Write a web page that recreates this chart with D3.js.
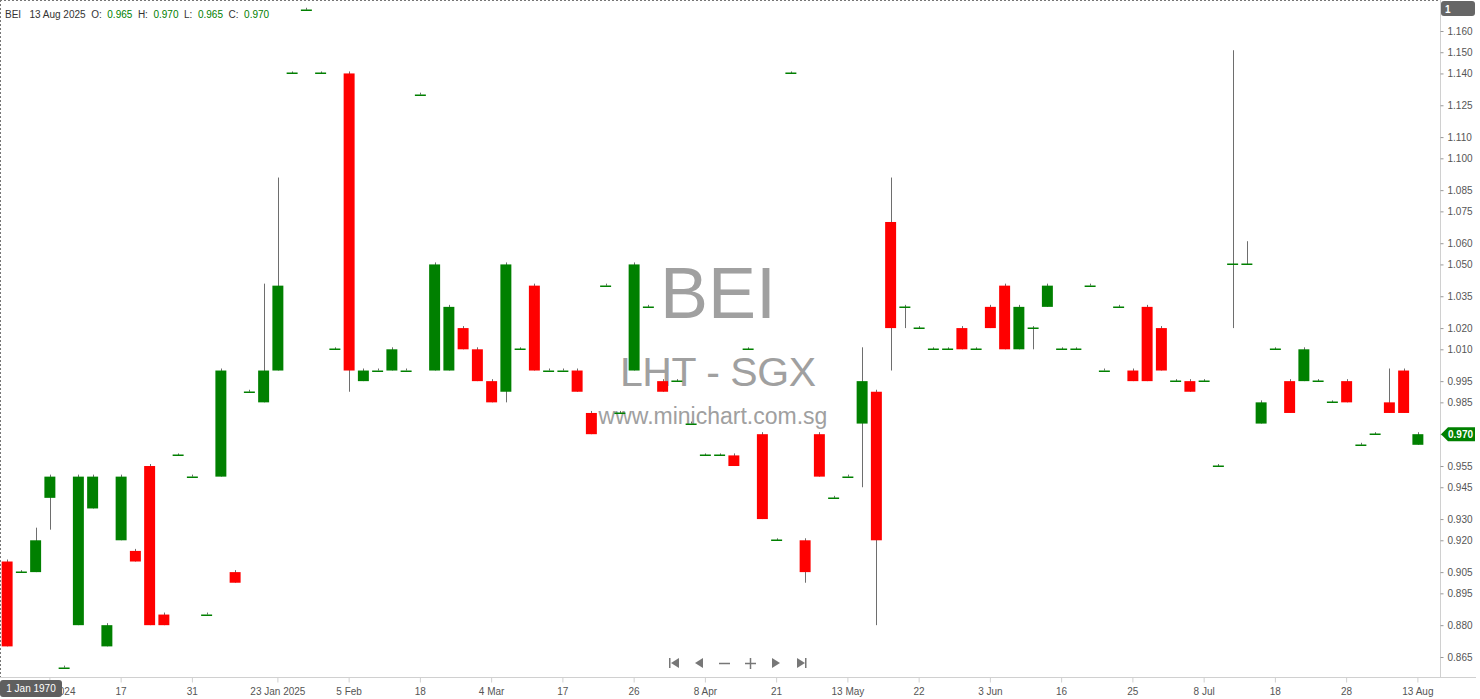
<!DOCTYPE html>
<html>
<head>
<meta charset="utf-8">
<script src="https://cdn.jsdelivr.net/npm/d3@7"></script>
<style>
  html, body { margin: 0; padding: 0; background: #fff; }
  svg { display: block; font-family: "Liberation Sans", Arial, sans-serif; }
</style>
</head>
<body>
<svg id="chart" width="1480" height="699"></svg>
<script>
// ---- data ----
const opens  = [0.910,0.905,0.905,0.940,0.860,0.880,0.935,0.870,0.920,0.915,
                0.955,0.885,0.960,0.950,0.885,0.950,0.905,0.990,0.985,1.000,
                1.140,1.170,1.140,1.010,1.140,0.995,1.000,1.000,1.000,1.130,
                1.000,1.000,1.020,1.010,0.995,0.990,1.010,1.040,1.000,1.000,
                1.000,0.980,1.040,0.980,1.000,1.030,0.995,0.995,0.975,0.960,
                0.960,0.960,1.010,0.970,0.920,1.140,0.920,0.970,0.940,0.950,
                0.975,0.990,1.070,1.030,1.020,1.010,1.010,1.020,1.010,1.030,
                1.040,1.010,1.020,1.030,1.010,1.010,1.040,1.000,1.030,1.000,
                1.030,1.020,0.995,0.995,0.995,0.955,1.050,1.050,0.975,1.010,
                0.995,0.995,0.995,0.985,0.995,0.965,0.970,0.985,1.000,0.965];
const highs  = [0.910,0.905,0.925,0.950,0.860,0.950,0.950,0.880,0.950,0.915,
                0.955,0.885,0.960,0.950,0.885,1.000,0.905,0.990,1.040,1.090,
                1.140,1.170,1.140,1.010,1.140,1.000,1.000,1.010,1.000,1.130,
                1.050,1.030,1.020,1.010,0.995,1.050,1.010,1.040,1.000,1.000,
                1.000,0.980,1.040,0.980,1.050,1.030,0.995,0.995,0.975,0.960,
                0.960,0.960,1.010,0.970,0.920,1.140,0.920,0.970,0.940,0.950,
                1.010,0.990,1.090,1.030,1.020,1.010,1.010,1.020,1.010,1.030,
                1.040,1.030,1.020,1.040,1.010,1.010,1.040,1.000,1.030,1.000,
                1.030,1.020,0.995,0.995,0.995,0.955,1.150,1.060,0.985,1.010,
                0.995,1.010,0.995,0.985,0.995,0.965,0.970,1.000,1.000,0.970];
const lows   = [0.870,0.905,0.905,0.925,0.860,0.880,0.935,0.870,0.920,0.910,
                0.880,0.880,0.960,0.950,0.885,0.950,0.900,0.990,0.985,1.000,
                1.140,1.170,1.140,1.010,0.990,0.995,1.000,1.000,1.000,1.130,
                1.000,1.000,1.010,0.995,0.985,0.985,1.010,1.000,1.000,1.000,
                0.990,0.970,1.040,0.980,1.000,1.030,0.990,0.995,0.975,0.960,
                0.960,0.955,1.010,0.930,0.920,1.140,0.900,0.950,0.940,0.950,
                0.945,0.880,1.000,1.020,1.020,1.010,1.010,1.010,1.010,1.020,
                1.010,1.010,1.010,1.030,1.010,1.010,1.040,1.000,1.030,0.995,
                0.995,1.000,0.995,0.990,0.995,0.955,1.020,1.050,0.975,1.010,
                0.980,0.995,0.995,0.985,0.985,0.965,0.970,0.980,0.980,0.965];
const closes = [0.870,0.905,0.920,0.950,0.860,0.950,0.950,0.880,0.950,0.910,
                0.880,0.880,0.960,0.950,0.885,1.000,0.900,0.990,1.000,1.040,
                1.140,1.170,1.140,1.010,1.000,1.000,1.000,1.010,1.000,1.130,
                1.050,1.030,1.010,0.995,0.985,1.050,1.010,1.000,1.000,1.000,
                0.990,0.970,1.040,0.980,1.050,1.030,0.990,0.995,0.975,0.960,
                0.960,0.955,1.010,0.930,0.920,1.140,0.905,0.950,0.940,0.950,
                0.995,0.920,1.020,1.030,1.020,1.010,1.010,1.010,1.010,1.020,
                1.010,1.030,1.020,1.040,1.010,1.010,1.040,1.000,1.030,0.995,
                0.995,1.000,0.995,0.990,0.995,0.955,1.050,1.050,0.985,1.010,
                0.980,1.010,0.995,0.985,0.985,0.965,0.970,0.980,0.980,0.970];
const xTickIndex  = [3, 8, 13, 19, 24, 29, 34, 39, 44, 49, 54, 59, 64, 69, 74, 79, 84, 89, 94, 99];
const xTickLabels = ["3 Dec 2024","17","31","23 Jan 2025","5 Feb","18","4 Mar","17","26","8 Apr",
                     "21","13 May","22","3 Jun","16","25","8 Jul","18","28","13 Aug"];
const yTicks = [1.160,1.150,1.140,1.125,1.110,1.100,1.085,1.075,1.060,1.050,1.035,1.020,1.010,
                0.995,0.985,0.970,0.955,0.945,0.930,0.920,0.905,0.895,0.880,0.865];
const symbol = "BEI", exchangeText = "LHT - SGX", siteText = "www.minichart.com.sg";
const headerDate = "13 Aug 2025";

const UP = "#008000", DOWN = "#ff0000", WICK = "#555555", AXIS_TXT = "#555555";

const svg = d3.select("#chart");
const n = opens.length;
const data = d3.range(n).map(i => ({i, o: opens[i], h: highs[i], l: lows[i], c: closes[i]}));

const x = d3.scaleBand().domain(d3.range(n)).range([0, 1425]).paddingInner(0.23).paddingOuter(0.115);
const y = d3.scaleLinear().domain([0.865, 1.160]).range([657, 31]);

// borders
svg.append("line").attr("x1", 0).attr("x2", 1440).attr("y1", 0.5).attr("y2", 0.5)
  .attr("stroke", "#777").attr("stroke-dasharray", "2,2");
svg.append("line").attr("x1", 0.5).attr("x2", 0.5).attr("y1", 0).attr("y2", 680)
  .attr("stroke", "#777").attr("stroke-dasharray", "2,2");

// watermark
const wm = svg.append("g").attr("fill", "#a0a0a0").attr("text-anchor", "middle");
wm.append("text").attr("x", 718).attr("y", 318).attr("font-size", 72).text(symbol);
wm.append("text").attr("x", 718).attr("y", 386).attr("font-size", 41).attr("textLength", 196).text(exchangeText);
wm.append("text").attr("x", 713).attr("y", 424).attr("font-size", 23).text(siteText);

// axes lines
svg.append("line").attr("x1", 1440.5).attr("x2", 1440.5).attr("y1", 0).attr("y2", 677)
  .attr("stroke", "#d0d0d0");
svg.append("line").attr("x1", 0).attr("x2", 1476).attr("y1", 677.5).attr("y2", 677.5)
  .attr("stroke", "#d0d0d0");

const yAxis = svg.append("g").attr("transform", "translate(1440.5,0)")
  .call(d3.axisRight(y).tickValues(yTicks).tickSize(3).tickPadding(4).tickFormat(d3.format(".3f")));
yAxis.select(".domain").remove();
yAxis.selectAll("line").attr("stroke", "#999");
yAxis.selectAll("text").attr("fill", AXIS_TXT).attr("font-size", 10).attr("font-family", "Liberation Sans, Arial, sans-serif");

const labelOf = new Map(xTickIndex.map((d, k) => [d, xTickLabels[k]]));
const xAxis = svg.append("g").attr("transform", "translate(0,677.5)")
  .call(d3.axisBottom(x).tickValues(xTickIndex).tickSize(5).tickPadding(5).tickFormat(d => labelOf.get(d)));
xAxis.select(".domain").remove();
xAxis.selectAll("line").attr("stroke", "#d0d0d0");
xAxis.selectAll("text").attr("fill", AXIS_TXT).attr("font-size", 10).attr("font-family", "Liberation Sans, Arial, sans-serif");

// candles
const bw = x.bandwidth();
const cx = d => Math.round(x(d.i) + bw / 2) + 0.5;
const g = svg.append("g");
g.selectAll("line.wick").data(data).join("line")
  .attr("class", "wick")
  .attr("x1", cx).attr("x2", cx)
  .attr("y1", d => y(d.h) - 2).attr("y2", d => y(d.l))
  .attr("stroke", WICK).attr("stroke-width", 1).attr("stroke-opacity", 0.85);
g.selectAll("rect.body").data(data).join("rect")
  .attr("class", "body")
  .attr("x", d => x(d.i))
  .attr("width", bw)
  .attr("y", d => d.o === d.c ? Math.round(y(d.c)) - 0.5 : y(Math.max(d.o, d.c)))
  .attr("height", d => d.o === d.c ? 1.5 : Math.abs(y(d.o) - y(d.c)))
  .attr("fill", d => d.c >= d.o ? UP : DOWN);

// header
const hdr = svg.append("text").attr("x", 5).attr("y", 18).attr("font-size", 10).attr("fill", "#333");
const last = data[n - 1];
const f3 = d3.format(".3f");
const parts = [[symbol + "   " + headerDate + "  ", "#333"], ["O:  ", "#333"], [f3(last.o), UP], ["  H:  ", "#333"], [f3(last.h), UP],
               ["  L:  ", "#333"], [f3(last.l), UP], ["  C:  ", "#333"], [f3(last.c), UP]];
hdr.attr("xml:space", "preserve").style("white-space", "pre");
parts.forEach(([t, c]) => hdr.append("tspan").attr("fill", c).text(t));

// top-right "1" box
svg.append("rect").attr("x", 1441).attr("y", 1).attr("width", 34).attr("height", 15).attr("rx", 3).attr("fill", "#666");
svg.append("text").attr("x", 1445).attr("y", 12.5).attr("font-size", 10).attr("fill", "#fff").attr("font-weight", "bold").text("1");

// last price tag
const yl = y(last.c);
svg.append("path").attr("d", `M1441,${yl} L1448,${yl - 7} L1475,${yl - 7} L1475,${yl + 7} L1448,${yl + 7} Z`).attr("fill", UP);
svg.append("text").attr("x", 1448).attr("y", yl + 3.5).attr("font-size", 10).attr("font-weight", "bold").attr("fill", "#fff").text(f3(last.c));

// date box bottom-left
svg.append("rect").attr("x", 0).attr("y", 680).attr("width", 62).attr("height", 17).attr("rx", 3).attr("fill", "#5f5f5f");
svg.append("text").attr("x", 31).attr("y", 692).attr("text-anchor", "middle").attr("font-size", 10).attr("fill", "#fff").text("1 Jan 1970");

// navigation icons
const nav = svg.append("g").attr("fill", "#777").attr("stroke", "#777");
const ny = 663;
nav.append("rect").attr("x", 669).attr("y", ny - 5).attr("width", 1.5).attr("height", 10).attr("stroke", "none");
nav.append("path").attr("d", `M671,${ny} L679,${ny - 5} L679,${ny + 5} Z`).attr("stroke", "none");
nav.append("path").attr("d", `M695,${ny} L703,${ny - 5} L703,${ny + 5} Z`).attr("stroke", "none");
nav.append("line").attr("x1", 719).attr("x2", 730).attr("y1", ny + 0.5).attr("y2", ny + 0.5).attr("stroke-width", 1.5);
nav.append("line").attr("x1", 745).attr("x2", 756).attr("y1", ny + 0.5).attr("y2", ny + 0.5).attr("stroke-width", 1.5);
nav.append("line").attr("x1", 750.5).attr("x2", 750.5).attr("y1", ny - 5).attr("y2", ny + 6).attr("stroke-width", 1.5);
nav.append("path").attr("d", `M772,${ny - 5} L780,${ny} L772,${ny + 5} Z`).attr("stroke", "none");
nav.append("path").attr("d", `M797,${ny - 5} L805,${ny} L797,${ny + 5} Z`).attr("stroke", "none");
nav.append("rect").attr("x", 805).attr("y", ny - 5).attr("width", 1.5).attr("height", 10).attr("stroke", "none");
</script>
</body>
</html>
